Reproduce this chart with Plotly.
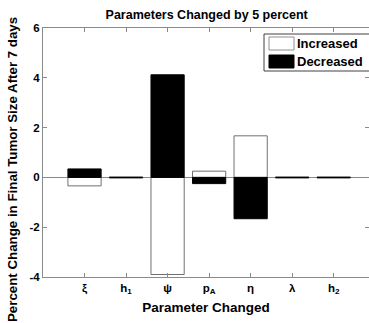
import plotly.graph_objects as go

categories = ["ξ", "h<sub>1</sub>", "ψ", "p<sub>A</sub>", "η", "λ", "h<sub>2</sub>"]
positions = [1, 2, 3, 4, 5, 6, 7]
increased = [-0.34, 0.02, -3.9, 0.25, 1.67, 0.02, 0.02]
decreased = [0.34, -0.02, 4.12, -0.25, -1.66, -0.02, -0.02]
y_ticks = [-4, -2, 0, 2, 4, 6]
y_tick_labels = ["-4", "-2", "0", "2", "4", "6"]

FONT = "Liberation Sans, Arial, sans-serif"
LINE = "#8a8a8a"

fig = go.Figure()
fig.add_trace(go.Bar(x=positions, y=increased, width=0.8, name="Increased",
                     marker=dict(color="white", line=dict(color="#707070", width=1)),
                     showlegend=False))
fig.add_trace(go.Bar(x=positions, y=decreased, width=0.8, name="Decreased",
                     marker=dict(color="black", line=dict(color="black", width=1)),
                     showlegend=False))

fig.update_layout(
    width=369, height=323,
    margin=dict(l=43, r=0, t=28, b=46),
    barmode="overlay",
    plot_bgcolor="white", paper_bgcolor="white",
    font=dict(family=FONT, size=11, color="black", weight="bold"),
    title=dict(text="Parameters Changed by 5 percent", x=0.56, xanchor="center",
               y=0.955, yanchor="middle",
               font=dict(family=FONT, size=12.5, color="black", weight="bold")),
)
fig.update_xaxes(
    range=[0, 7.85], tickmode="array", tickvals=positions, ticktext=categories,
    ticks="inside", ticklen=4, tickcolor=LINE, showline=True, linecolor=LINE,
    linewidth=1, mirror="ticks", showgrid=False, zeroline=False,
    title=dict(text="Parameter Changed", standoff=7,
               font=dict(family=FONT, size=13.5, color="black", weight="bold")),
    tickfont=dict(family=FONT, size=11.5, color="black", weight="bold"),
)
fig.update_yaxes(
    range=[-4, 6], tickmode="array", tickvals=y_ticks, ticktext=y_tick_labels,
    ticks="inside", ticklen=4, tickcolor=LINE, showline=True, linecolor=LINE,
    linewidth=1, mirror="ticks", showgrid=False, zeroline=True,
    zerolinecolor=LINE, zerolinewidth=1,
    tickfont=dict(family=FONT, size=11.5, color="black", weight="bold"),
)

# pixel -> paper helpers
def px(x):
    return (x - 43) / (369 - 43)
def py(y):
    return (323 - 46 - y) / (323 - 28 - 46)

# y-axis title as rotated annotation (centered on the whole figure height)
fig.add_annotation(text="Percent Change in Final Tumor Size After 7 days",
                   xref="paper", yref="paper", x=px(12), y=py(170),
                   xanchor="center", yanchor="middle", textangle=-90,
                   showarrow=False,
                   font=dict(family=FONT, size=13.3, color="black", weight="bold"))

# custom legend (box, swatches, labels)
fig.add_shape(type="rect", xref="paper", yref="paper",
              x0=px(264), x1=px(372), y0=py(71), y1=py(34),
              line=dict(color="#404040", width=1), fillcolor="white")
fig.add_shape(type="rect", xref="paper", yref="paper",
              x0=px(269), x1=px(294), y0=py(50), y1=py(37),
              line=dict(color="#909090", width=1), fillcolor="white")
fig.add_shape(type="rect", xref="paper", yref="paper",
              x0=px(269), x1=px(294), y0=py(68), y1=py(55),
              line=dict(color="black", width=1), fillcolor="black")
for label, yc in [("Increased", 43.5), ("Decreased", 61.5)]:
    fig.add_annotation(text=label, xref="paper", yref="paper", x=px(295), y=py(yc),
                       xanchor="left", yanchor="middle", showarrow=False,
                       font=dict(family=FONT, size=13, color="black", weight="bold"))

fig.write_html("out.html")
